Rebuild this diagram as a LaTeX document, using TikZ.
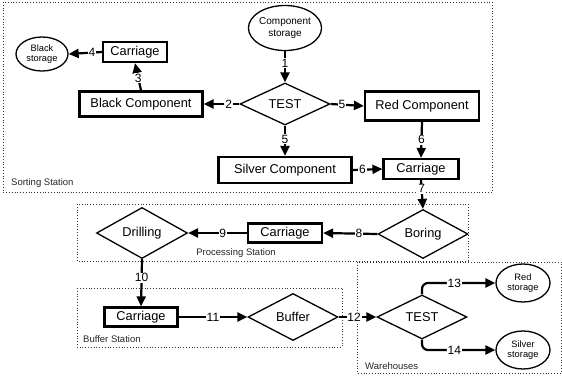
\documentclass[tikz,border=0pt]{standalone}
\usepackage{fontspec}
\setmainfont{Liberation Sans}
\usetikzlibrary{shapes.geometric,arrows.meta}
\begin{document}
\begin{tikzpicture}[x=1pt,y=-1pt,
  box/.style={draw,line width=2.2pt,inner sep=0pt,font=\fontsize{12.8}{14}\selectfont},
  dia/.style={draw,diamond,line width=1.3pt,inner sep=0pt,font=\fontsize{12.8}{14}\selectfont},
  stor/.style={draw,ellipse,line width=1.3pt,inner sep=0pt,align=center,font=\fontsize{9.3}{10.5}\selectfont},
  station/.style={draw=black!80,dotted,line width=0.8pt},
  stlabel/.style={font=\fontsize{9.5}{10}\selectfont,text=black!85,inner sep=0pt},
  conn/.style={line width=2.2pt,-{Triangle[length=10pt,width=9pt]}},
  lab/.style={fill=white,inner sep=0.8pt,font=\fontsize{12}{13}\selectfont}]
\useasboundingbox (0,0) rectangle (562,383);
% stations
\draw[station] (3,2) rectangle (492,192);
\draw[station] (77,204) rectangle (468,261);
\draw[station] (77,288) rectangle (342,347);
\draw[station] (357,262) rectangle (561,373);
\node[stlabel,anchor=west] (lsort) at (11,183) {Sorting Station};
\node[stlabel] (lproc) at (236,253) {Processing Station};
\node[stlabel,anchor=west] (lbuf) at (83,339) {Buffer Station};
\node[stlabel,anchor=west] (lware) at (365,366) {Warehouses};
% nodes
\node[stor,minimum width=52pt,minimum height=34pt] (bstor) at (42,54) {Black\\storage};
\node[stor,minimum width=60pt,minimum height=45pt,font=\fontsize{10}{11.5}\selectfont] (cstor) at (285,28) {Component\\storage};
\node[stor,minimum width=54pt,minimum height=38pt] (rstor) at (523,283) {Red\\storage};
\node[stor,minimum width=54pt,minimum height=38pt] (sstor) at (523,350) {Silver\\storage};
\node[box,minimum width=64pt,minimum height=20pt] (carT) at (135,52) {Carriage};
\node[box,minimum width=123pt,minimum height=25pt] (blackC) at (141,104) {Black Component};
\node[box,minimum width=114pt,minimum height=29pt] (redC) at (422,106) {Red Component};
\node[box,minimum width=133pt,minimum height=26pt] (silverC) at (285,170) {Silver Component};
\node[box,minimum width=75pt,minimum height=20pt] (carS) at (421,169) {Carriage};
\node[box,minimum width=74pt,minimum height=19pt] (carP) at (285,233) {Carriage};
\node[box,minimum width=73pt,minimum height=19pt] (carB) at (141,317) {Carriage};
\node[dia,minimum width=90pt,minimum height=42pt] (test1) at (285,104) {TEST};
\node[dia,minimum width=90pt,minimum height=44pt] (boring) at (423,234) {Boring};
\node[dia,minimum width=91pt,minimum height=45pt] (drill) at (142,233) {Drilling};
\node[dia,minimum width=90pt,minimum height=47pt] (buffer) at (293,317) {Buffer};
\node[dia,minimum width=90pt,minimum height=44pt] (test2) at (422,317) {TEST};
% connectors
\draw[conn] (carT.west) -- node[lab,pos=0.3] {4} (bstor.east);
\draw[conn] (blackC.north) -- node[lab,pos=0.45] {3} (carT.south);
\draw[conn] (cstor.south) -- node[lab,pos=0.38] {1} (test1.north);
\draw[conn] (test1.west) -- node[lab,pos=0.3] {2} (blackC.east);
\draw[conn] (test1.east) -- node[lab,pos=0.34] {5} (redC.west);
\draw[conn] (test1.south) -- node[lab,pos=0.44] {5} (silverC.north);
\draw[conn] (redC.south) -- node[lab,pos=0.5] {6} (carS.north);
\draw[conn] (silverC.east) -- node[lab,pos=0.33] {6} (carS.west);
\draw[conn] (carS.south) -- node[lab,pos=0.3] {7} (boring.north);
\draw[conn] (boring.west) -- node[lab,pos=0.34] {8} (carP.east);
\draw[conn] (carP.west) -- node[lab,pos=0.41] {9} (drill.east);
\draw[conn] (drill.south) -- node[lab,pos=0.39] {10} (carB.north);
\draw[conn] (carB.east) -- node[lab,pos=0.5] {11} (buffer.west);
\draw[conn] (buffer.east) -- node[lab,pos=0.41] {12} (test2.west);
\draw[conn,rounded corners=6pt] (test2.north) |- node[lab,pos=0.72] {13} (rstor.west);
\draw[conn,rounded corners=6pt] (test2.south) |- node[lab,pos=0.72] {14} (sstor.west);
\end{tikzpicture}
\end{document}
